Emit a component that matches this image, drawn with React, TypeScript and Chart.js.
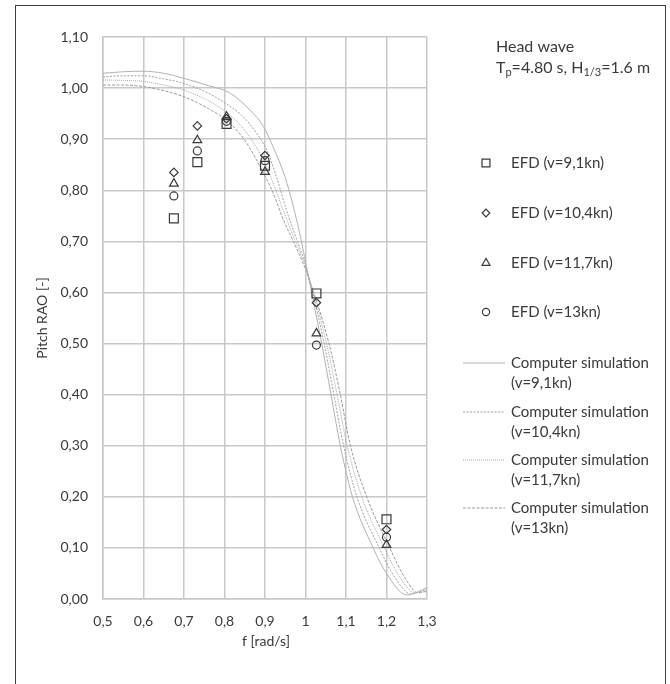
import React, { useEffect, useRef } from "react";
import { Chart, registerables } from "chart.js";

Chart.register(...registerables);

// ---- EFD measurements ----
const efdF = [0.675, 0.733, 0.805, 0.9, 1.027, 1.2];
const efd91 = [0.745, 0.855, 0.93, 0.848, 0.598, 0.156];
const efd104 = [0.835, 0.926, 0.94, 0.868, 0.58, 0.136];
const efd117 = [0.813, 0.898, 0.944, 0.836, 0.52, 0.106];
const efd13 = [0.789, 0.877, 0.935, 0.858, 0.497, 0.121];

// ---- Computer simulation curves ----
const sim91F = [0.5, 0.55, 0.6, 0.65, 0.7, 0.76, 0.814, 0.863, 0.896, 0.92, 0.949, 0.97, 0.99, 1.0, 1.04, 1.063, 1.086, 1.116, 1.167, 1.2, 1.25, 1.3];
const sim91V = [1.029, 1.032, 1.033, 1.029, 1.019, 1.005, 0.99, 0.957, 0.925, 0.885, 0.827, 0.768, 0.7, 0.66, 0.5, 0.4, 0.3, 0.2, 0.1, 0.05, 0.008, 0.022];
const sim104F = [0.5, 0.55, 0.6, 0.65, 0.7, 0.76, 0.814, 0.846, 0.879, 0.904, 0.928, 0.953, 0.98, 1.0, 1.046, 1.07, 1.094, 1.127, 1.182, 1.22, 1.26, 1.3];
const sim104V = [1.022, 1.024, 1.024, 1.018, 1.009, 0.99, 0.964, 0.944, 0.912, 0.879, 0.827, 0.761, 0.7, 0.655, 0.5, 0.4, 0.3, 0.2, 0.1, 0.043, 0.01, 0.02];
const sim117F = [0.5, 0.55, 0.6, 0.65, 0.7, 0.76, 0.814, 0.855, 0.896, 0.92, 0.945, 0.975, 1.0, 1.052, 1.078, 1.103, 1.139, 1.195, 1.235, 1.27, 1.3];
const sim117V = [1.016, 1.015, 1.013, 1.006, 0.996, 0.975, 0.947, 0.912, 0.859, 0.814, 0.761, 0.7, 0.65, 0.5, 0.4, 0.3, 0.2, 0.1, 0.04, 0.012, 0.017];
const sim13F = [0.5, 0.55, 0.6, 0.65, 0.7, 0.76, 0.814, 0.855, 0.896, 0.92, 0.945, 0.97, 1.0, 1.058, 1.086, 1.111, 1.151, 1.208, 1.245, 1.278, 1.3];
const sim13V = [1.006, 1.006, 1.003, 0.995, 0.983, 0.96, 0.931, 0.892, 0.834, 0.795, 0.743, 0.7, 0.645, 0.5, 0.4, 0.3, 0.2, 0.1, 0.042, 0.012, 0.015];

// ---- Labels ----
const efdLabels = ["EFD (v=9,1kn)", "EFD (v=10,4kn)", "EFD (v=11,7kn)", "EFD (v=13kn)"];
const simLabels = [
  ["Computer simulation", "(v=9,1kn)"],
  ["Computer simulation", "(v=10,4kn)"],
  ["Computer simulation", "(v=11,7kn)"],
  ["Computer simulation", "(v=13kn)"],
];
const xTitle = "f [rad/s]";
const yTitle = "Pitch RAO [-]";
const titleLine1 = "Head wave";

const FONT = "Lato, 'Open Sans', sans-serif";
const TXT = "#3a3a3a";
const GRID = "#c8c8c8";
const MARK = "#3a3a3a";
const simColors = ["#b2b2b2", "#a0a0a0", "#a8a8a8", "#9a9a9a"];
const simDashes: number[][] = [[], [2, 1.5], [1, 1], [3, 1.5]];

const pts = (xs: number[], ys: number[]) => xs.map((x, i) => ({ x, y: ys[i] }));

function drawMarker(ctx: CanvasRenderingContext2D, style: string, x: number, y: number, r: number) {
  ctx.beginPath();
  if (style === "rect") {
    const s = r * Math.SQRT1_2;
    ctx.rect(x - s, y - s, 2 * s, 2 * s);
  } else if (style === "rectRot") {
    ctx.moveTo(x - r, y);
    ctx.lineTo(x, y - r);
    ctx.lineTo(x + r, y);
    ctx.lineTo(x, y + r);
    ctx.closePath();
  } else if (style === "triangle") {
    ctx.moveTo(x, y - r);
    ctx.lineTo(x + r * 0.866, y + r / 2);
    ctx.lineTo(x - r * 0.866, y + r / 2);
    ctx.closePath();
  } else {
    ctx.arc(x, y, r, 0, Math.PI * 2);
  }
  ctx.stroke();
}

const markerStyles = ["rect", "rectRot", "triangle", "circle"];
const markerRadii = [6.3, 4.2, 5, 4];
const legendRadii = [5.6, 3.8, 4.6, 3.6];

const overlay = {
  id: "overlay",
  afterDraw(chart: any) {
    const ctx: CanvasRenderingContext2D = chart.ctx;
    ctx.save();
    ctx.fillStyle = TXT;
    ctx.textBaseline = "middle";
    ctx.textAlign = "left";
    // title block
    ctx.font = `16px ${FONT}`;
    ctx.fillText(titleLine1, 496, 47);
    let x = 496;
    const y = 68;
    const seg = (t: string, sub = false) => {
      ctx.font = sub ? `11px ${FONT}` : `16px ${FONT}`;
      ctx.fillText(t, x, sub ? y + 4 : y);
      x += ctx.measureText(t).width;
    };
    seg("T");
    seg("p", true);
    seg("=4.80 s, H");
    seg("1/3", true);
    seg("=1.6 m");

    // legend: EFD markers
    ctx.font = `15px ${FONT}`;
    const efdY = [163, 213, 263, 312];
    ctx.strokeStyle = MARK;
    ctx.lineWidth = 1.2;
    efdLabels.forEach((lab, i) => {
      drawMarker(ctx, markerStyles[i], 486, efdY[i], legendRadii[i]);
      ctx.fillText(lab, 511, efdY[i]);
    });
    // legend: simulation lines
    const simY = [363, 412, 460, 508];
    simLabels.forEach((lab, i) => {
      ctx.strokeStyle = simColors[i];
      ctx.lineWidth = 1;
      ctx.setLineDash(simDashes[i]);
      ctx.beginPath();
      ctx.moveTo(463, simY[i]);
      ctx.lineTo(505, simY[i]);
      ctx.stroke();
      ctx.setLineDash([]);
      ctx.fillText(lab[0], 511, simY[i]);
      ctx.fillText(lab[1], 511, simY[i] + 20);
    });

    // axis titles
    ctx.font = `14px ${FONT}`;
    ctx.textAlign = "center";
    ctx.fillText(xTitle, 266, 641);
    ctx.translate(42, 318);
    ctx.rotate(-Math.PI / 2);
    ctx.fillText(yTitle, 0, 0);
    ctx.restore();
  },
};

export default function App() {
  const ref = useRef<HTMLCanvasElement>(null);
  useEffect(() => {
    if (!ref.current) return;
    const efdSets = [efd91, efd104, efd117, efd13].map((vals, i) => ({
      type: "scatter" as const,
      label: efdLabels[i],
      data: pts(efdF, vals),
      pointStyle: markerStyles[i],
      pointRadius: markerRadii[i],
      pointBackgroundColor: "rgba(255,255,255,0)",
      pointBorderColor: MARK,
      pointBorderWidth: 1.2,
      showLine: false,
    }));
    const simData = [
      [sim91F, sim91V],
      [sim104F, sim104V],
      [sim117F, sim117V],
      [sim13F, sim13V],
    ];
    const simSets = simData.map(([f, v], i) => ({
      type: "scatter" as const,
      label: simLabels[i].join(" "),
      data: pts(f, v),
      showLine: true,
      pointRadius: 0,
      borderColor: simColors[i],
      borderWidth: 1,
      borderDash: simDashes[i],
      cubicInterpolationMode: "monotone" as const,
      fill: false,
    }));
    const chart = new Chart(ref.current, {
      type: "scatter",
      data: { datasets: [...efdSets, ...simSets] as any },
      options: {
        animation: false,
        responsive: false,
        devicePixelRatio: 1,
        layout: { padding: { left: 0, right: 243, top: 37, bottom: 0 } },
        plugins: { legend: { display: false }, tooltip: { enabled: false } },
        scales: {
          x: {
            type: "linear",
            min: 0.5,
            max: 1.3,
            ticks: {
              stepSize: 0.1,
              padding: 14,
              color: TXT,
              font: { family: FONT, size: 14 },
              callback: (v: any) => String(Number(Number(v).toFixed(1))).replace(".", ","),
            },
            grid: { color: GRID, lineWidth: 1.5, drawTicks: false },
            border: { color: GRID, width: 1.5 },
            afterFit: (s: any) => {
              s.height = 85;
            },
          },
          y: {
            type: "linear",
            min: 0,
            max: 1.1,
            ticks: {
              stepSize: 0.1,
              padding: 15,
              color: TXT,
              font: { family: FONT, size: 14 },
              callback: (v: any) => Number(v).toFixed(2).replace(".", ","),
            },
            grid: { color: GRID, lineWidth: 1.5, drawTicks: false },
            border: { color: GRID, width: 1.5 },
            afterFit: (s: any) => {
              s.width = 103;
            },
          },
        },
      },
      plugins: [overlay],
    });
    return () => chart.destroy();
  }, []);

  return (
    <div style={{ position: "fixed", left: 0, top: 0, width: 670, height: 684, overflow: "hidden", background: "#fff" }}>
      <canvas ref={ref} width={670} height={684} style={{ position: "absolute", left: 0, top: 0, width: 670, height: 684 }} />
      <div
        style={{
          position: "absolute",
          left: 15,
          top: 5,
          width: 651,
          height: 720,
          border: "1.5px solid #3c3c3c",
          boxSizing: "border-box",
          pointerEvents: "none",
        }}
      />
    </div>
  );
}
